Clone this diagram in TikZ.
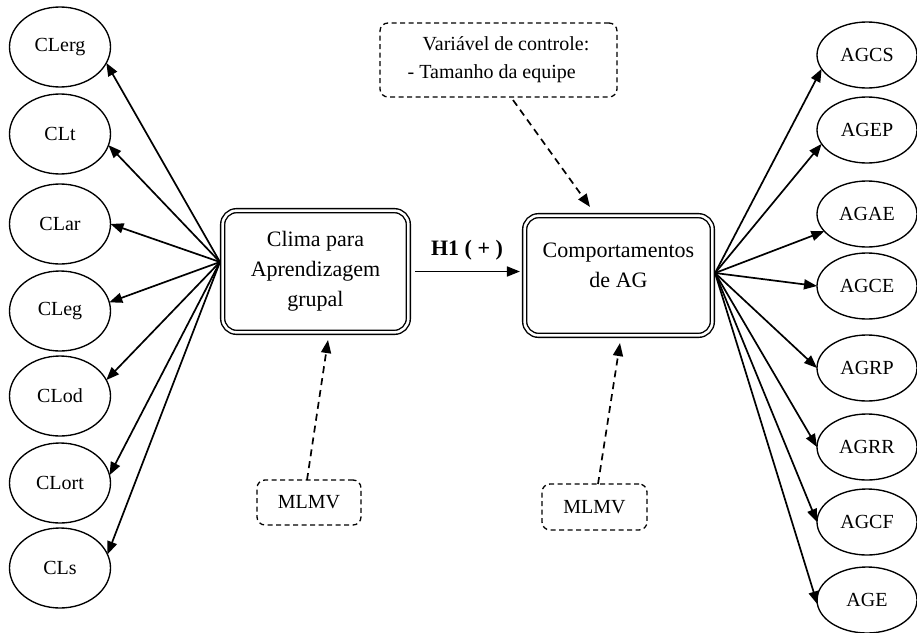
\documentclass[tikz,border=0pt]{standalone}
\usepackage{fontspec}
\setmainfont{Liberation Serif}
\usetikzlibrary{arrows.meta,shapes.geometric,calc}
\begin{document}
\begin{tikzpicture}[x=1pt,y=-1pt,
  ell/.style={ellipse,draw,line width=1.35pt,inner sep=0pt,outer sep=0pt,font=\fontsize{20}{24}\selectfont},
  lell/.style={ell,minimum width=101pt,minimum height=80pt},
  rell/.style={ell,minimum width=100pt,minimum height=66pt},
  mainbox/.style={draw,double,line width=1.4pt,double distance=2.6pt,rounded corners=14pt,outer sep=2.7pt,align=center,font=\fontsize{22}{30}\selectfont},
  dbox/.style={draw,dash pattern=on 5pt off 3.5pt,line width=1.3pt,rounded corners=8pt,outer sep=0pt,font=\fontsize{20}{28}\selectfont},
  arr/.style={line width=1.7pt,-{Triangle[length=13pt,width=10pt]}},
  darr/.style={arr,dash pattern=on 7pt off 5pt}]
\useasboundingbox (0,0) rectangle (917,632);

% left ellipses
\node[lell] (clerg) at (60,47) {CLerg};
\node[lell] (clt) at (60,134) {CLt};
\node[lell] (clar) at (60,224) {CLar};
\node[lell] (cleg) at (60,311) {CLeg};
\node[lell] (clod) at (60,396) {CLod\hspace{10pt}};
\node[lell] (clort) at (60,483) {CLort};
\node[lell] (cls) at (60,568) {CLs\hspace{22pt}};

% right ellipses
\node[rell] (agcs) at (867,55) {AGCS};
\node[rell] (agep) at (867,130) {AGEP};
\node[rell] (agae) at (867,214) {AGAE};
\node[rell] (agce) at (867,286) {AGCE};
\node[rell] (agrp) at (867,368) {AGRP};
\node[rell] (agrr) at (867,447) {AGRR};
\node[rell] (agcf) at (867,522) {AGCF};
\node[rell] (age) at (867,600) {AGE};

% main boxes
\node[mainbox,minimum width=185.7pt,minimum height=121.7pt] (clima) at (315.5,271.5) {Clima para\\Aprendizagem\\grupal};
\node[mainbox,minimum width=187.7pt,minimum height=119.7pt] (comp) at (618.5,275.5) {\raisebox{9pt}[\height][\depth]{\begin{tabular}{@{}c@{}}Comportamentos\\de AG\end{tabular}}};

% dashed boxes
\node[dbox,minimum width=237pt,minimum height=74pt,align=left] (ctrl) at (498.5,60) {\hspace*{15pt}Variável de controle:\\- Tamanho da equipe};
\node[dbox,minimum width=104pt,minimum height=45pt] (mlmvA) at (309,502.5) {MLMV};
\node[dbox,minimum width=105pt,minimum height=46pt] (mlmvB) at (594.5,507) {MLMV};

% H1 arrow
\node[font=\bfseries\fontsize{22}{26}\selectfont] (h1) at (467,250) {H1 ( + )};
\draw[arr,shorten <=4pt,shorten >=2pt] (clima.east) -- (clima.east -| comp.west);

% fans
\coordinate (lfan) at ([yshift=9.5pt]clima.west);
\coordinate (rfan) at ([yshift=2.5pt]comp.east);
\draw[arr] (lfan) -- (clerg.-19);
\draw[arr] (lfan) -- (clt.-13);
\draw[arr] (lfan) -- (clar.0);
\draw[arr] (lfan) -- (cleg.10);
\draw[arr] (lfan) -- (clod.19);
\draw[arr] (lfan) -- (clort.9);
\draw[arr] (lfan) -- (cls.16);

\draw[arr] (rfan) -- (agcs.197);
\draw[arr] (rfan) -- (agep.197);
\draw[arr] (rfan) -- (agae.202);
\draw[arr] (rfan) -- (agce.180);
\draw[arr] (rfan) -- (agrp.180);
\draw[arr] (rfan) -- (agrr.180);
\draw[arr] (rfan) -- (agcf.180);
\draw[arr] (rfan) -- (age.185);

% dashed arrows
\draw[darr] ([xshift=14.5pt,yshift=-3pt]ctrl.south) -- ([xshift=-28.5pt,yshift=6pt]comp.north);
\draw[darr] ([xshift=-2pt]mlmvA.north) -- ([xshift=12.5pt,yshift=-5pt]clima.south);
\draw[darr] ([xshift=3.5pt]mlmvB.north) -- ([xshift=1.5pt,yshift=-5pt]comp.south);
\end{tikzpicture}
\end{document}
